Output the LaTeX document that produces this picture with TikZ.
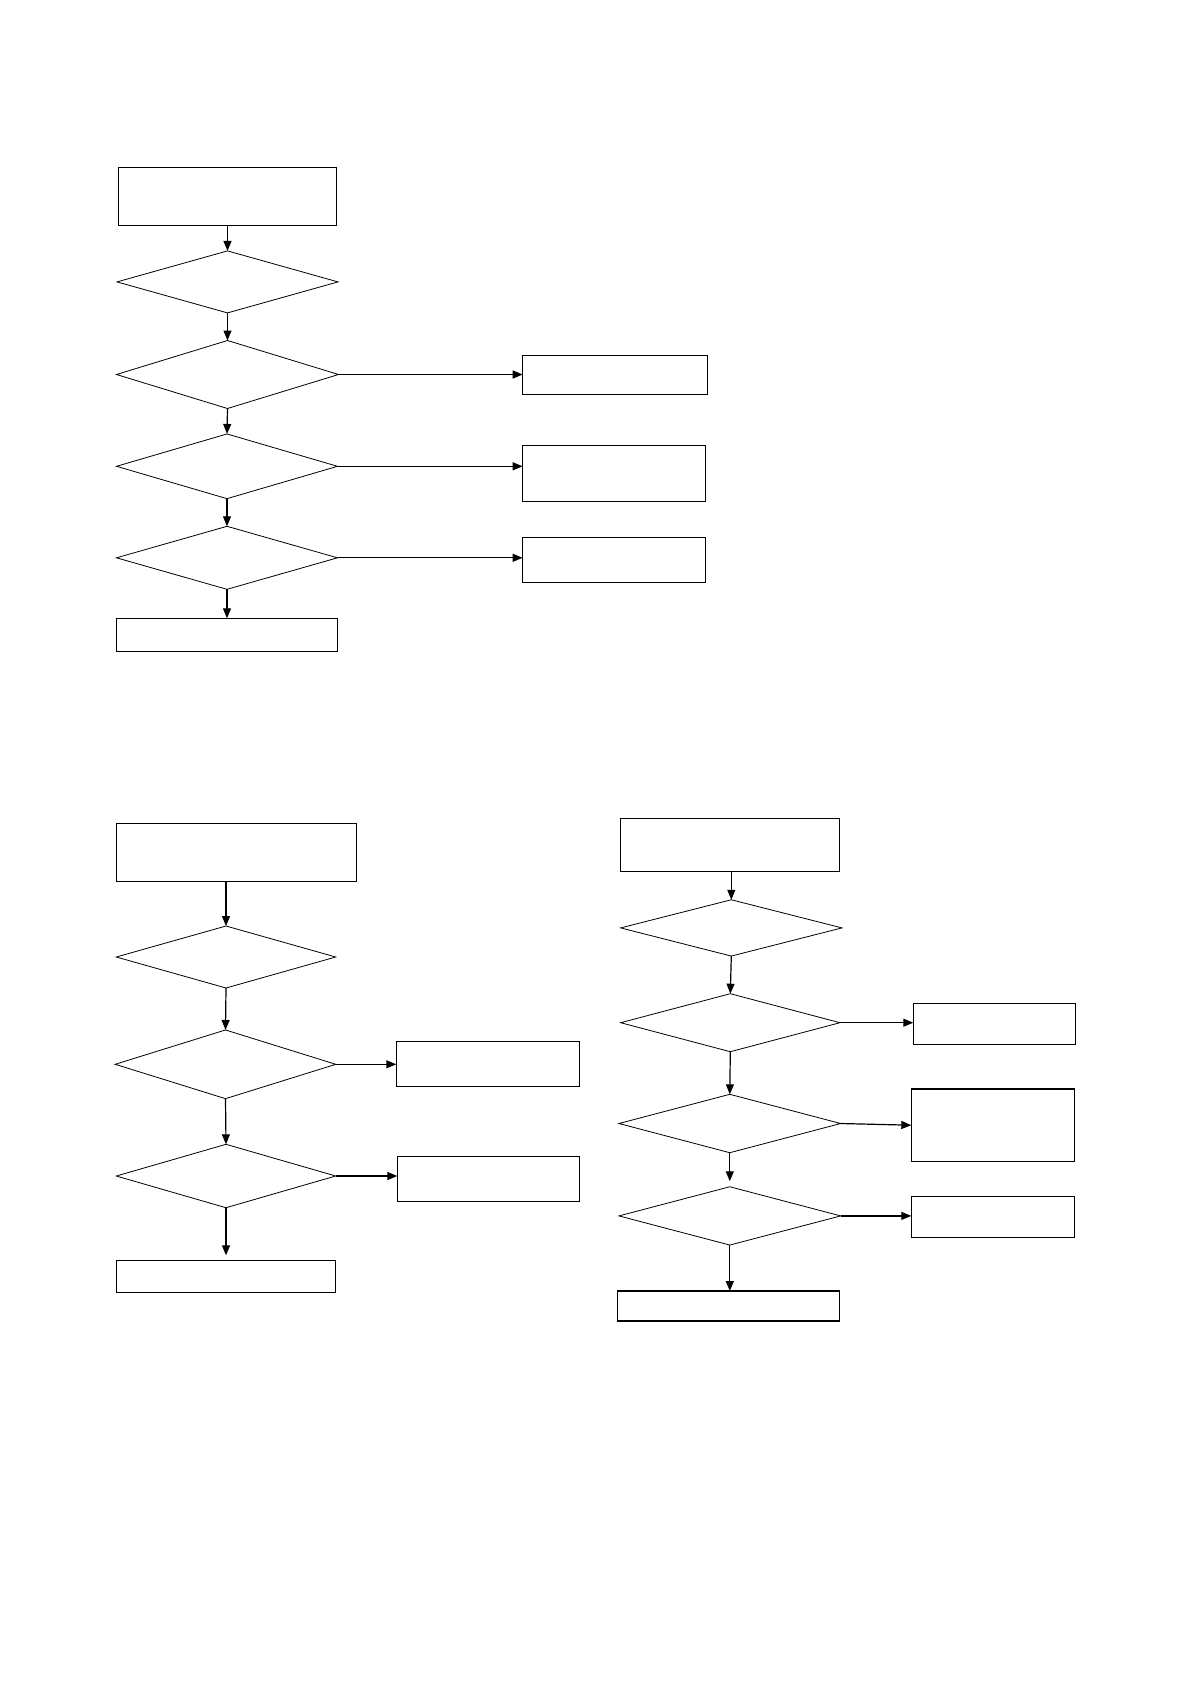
\documentclass[tikz,border=0pt]{standalone}
\usetikzlibrary{shapes.geometric,arrows.meta}
\begin{document}
\begin{tikzpicture}[x=1pt,y=-1pt,
  box/.style={draw, rectangle, line width=1.2pt, inner sep=0pt, outer sep=0pt},
  dia/.style={draw, diamond, line width=0.8pt, inner sep=0pt, outer sep=0pt},
  arr/.style={-{Triangle[length=10pt,width=8pt]}, line width=1.2pt}]
\useasboundingbox (0,0) rectangle (1192,1684);
% ---------- top chart ----------
\node[box, minimum width=218pt, minimum height=58pt] (tA) at (227.6,196.3) {};
\node[dia, minimum width=221pt, minimum height=62pt] (tD1) at (227.5,281.9) {};
\node[dia, minimum width=222pt, minimum height=68pt] (tD2) at (227.5,374.5) {};
\node[box, minimum width=185pt, minimum height=38.6pt] (tR1) at (615.2,375) {};
\node[dia, minimum width=221pt, minimum height=64.7pt] (tD3) at (227,466.3) {};
\node[box, minimum width=182.5pt, minimum height=56pt] (tR2) at (613.9,473.3) {};
\node[dia, minimum width=221pt, minimum height=63pt] (tD4) at (227,557.8) {};
\node[box, minimum width=182.5pt, minimum height=45pt] (tR3) at (613.9,559.8) {};
\node[box, minimum width=221pt, minimum height=33pt] (tE) at (226.8,634.8) {};
\draw[arr] (tD1.north |- tA.south) -- (tD1.north);
\draw[arr] (tD1.south) -- (tD2.north);
\draw[arr] (tD2.south) -- (tD3.north);
\draw[arr] (tD3.south) -- (tD4.north);
\draw[arr] (tD4.south) -- (tD4.south |- tE.north);
\draw[arr] (tD2.east) -- (tD2.east -| tR1.west);
\draw[arr] (tD3.east) -- (tD3.east -| tR2.west);
\draw[arr] (tD4.east) -- (tD4.east -| tR3.west);
% ---------- bottom-left chart ----------
\node[box, minimum width=240.4pt, minimum height=58pt] (lA) at (236.5,852.3) {};
\node[dia, minimum width=219.4pt, minimum height=62pt] (lD1) at (226,957) {};
\node[dia, minimum width=220.6pt, minimum height=68.7pt] (lD2) at (225.5,1064.3) {};
\node[box, minimum width=183.4pt, minimum height=45pt] (lR1) at (488,1063.8) {};
\node[dia, minimum width=219.4pt, minimum height=63.4pt] (lD3) at (226,1176) {};
\node[box, minimum width=182.4pt, minimum height=44.6pt] (lR2) at (488.5,1179) {};
\node[box, minimum width=219.4pt, minimum height=32pt] (lE) at (226,1276.3) {};
\draw[arr] (lD1.north |- lA.south) -- (lD1.north);
\draw[arr] (lD1.south) -- (lD2.north);
\draw[arr] (lD2.south) -- (lD3.north);
\draw[arr, shorten >=5pt] (lD3.south) -- (lD3.south |- lE.north);
\draw[arr] (lD2.east) -- (lD2.east -| lR1.west);
\draw[arr] (lD3.east) -- (lD3.east -| lR2.west);
% ---------- bottom-right chart ----------
\node[box, minimum width=219.4pt, minimum height=53pt] (rA) at (730,844.8) {};
\node[dia, minimum width=221.3pt, minimum height=56.3pt] (rD1) at (731.3,927.9) {};
\node[dia, minimum width=219.3pt, minimum height=58pt] (rD2) at (730.3,1022.7) {};
\node[box, minimum width=162pt, minimum height=41pt] (rR1) at (994.3,1023.8) {};
\node[dia, minimum width=221.7pt, minimum height=58.4pt] (rD3) at (729.8,1123.5) {};
\node[box, minimum width=163pt, minimum height=72.3pt] (rR2) at (992.8,1125.2) {};
\node[dia, minimum width=221.7pt, minimum height=58.3pt] (rD4) at (729.8,1215.9) {};
\node[box, minimum width=163pt, minimum height=41pt] (rR3) at (992.8,1216.8) {};
\node[box, minimum width=222pt, minimum height=30pt] (rE) at (728.3,1306) {};
\draw[arr] (rD1.north |- rA.south) -- (rD1.north);
\draw[arr] (rD1.south) -- (rD2.north);
\draw[arr] (rD2.south) -- (rD3.north);
\draw[arr, shorten >=5.5pt] (rD3.south) -- (rD4.north);
\draw[arr] (rD4.south) -- (rD4.south |- rE.north);
\draw[arr] (rD2.east) -- (rD2.east -| rR1.west);
\draw[arr] (rD3.east) -- (rR2.west);
\draw[arr] (rD4.east) -- (rD4.east -| rR3.west);
\end{tikzpicture}
\end{document}
